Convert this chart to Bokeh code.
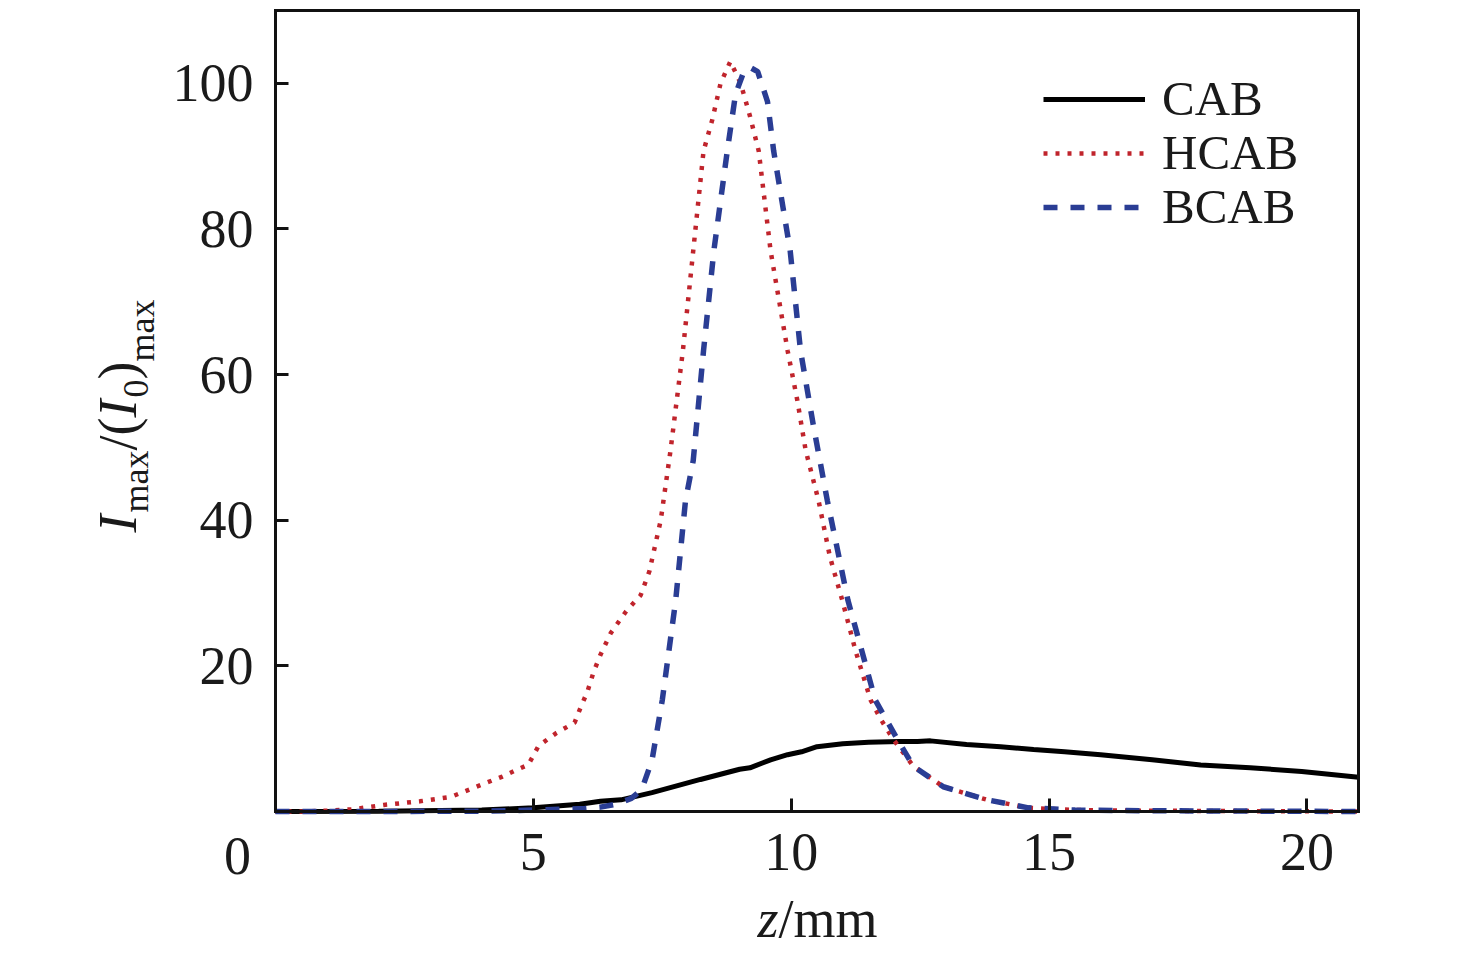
import math
from bokeh.plotting import figure
from bokeh.models import Range1d, FixedTicker, Legend, LegendItem, Label, LinearAxis
from bokeh.embed import file_html
from bokeh.resources import INLINE

# ---------------- data ----------------
cab_z = [0, 2, 4, 5.0, 5.9, 6.3, 6.7, 7.3, 8.24, 9.0, 9.2, 9.6, 9.93, 10.2, 10.5, 11.0, 11.5,
         12.1, 12.45, 12.7, 13.4, 14.06, 14.7, 15.3, 16.0, 17.0, 17.94, 18.9, 19.9, 21.0]
cab_v = [0, 0.05, 0.2, 0.5, 1.0, 1.4, 1.6, 2.6, 4.4, 5.8, 6.0, 7.1, 7.8, 8.2, 8.9, 9.3, 9.5,
         9.6, 9.6, 9.7, 9.2, 8.9, 8.5, 8.2, 7.8, 7.1, 6.4, 6.0, 5.5, 4.7]

hcab_z = [0, 0.5, 1.0, 1.5, 2.1, 2.8, 3.4, 4.0, 4.4, 4.7, 4.9, 5.1, 5.45, 5.8, 5.9, 6.05, 6.17,
          6.3, 6.5, 6.8, 7.08, 7.25, 7.47, 7.66, 7.9, 8.1, 8.3, 8.47, 8.63, 8.82, 9.02, 9.2, 9.37,
          9.6, 9.93, 10.12, 10.28, 10.53, 10.75, 10.99, 11.25, 11.54, 11.75, 11.98, 12.37, 12.95,
          13.8, 14.6, 15.5, 17, 19, 21]
hcab_v = [0, 0, 0.1, 0.3, 0.9, 1.4, 2.0, 3.7, 4.8, 5.8, 6.4, 9.0, 10.8, 12.2, 14, 16.5, 19.2,
          21.5, 24.5, 27.5, 29.7, 33, 40, 49.6, 63.3, 77, 90.7, 95, 100, 103, 100, 95.5, 90.7,
          77, 63.3, 56.4, 49.6, 42.7, 35, 29, 22, 15.3, 12.5, 9.9, 6.2, 3.4,
          1.6, 0.5, 0.2, 0.1, 0.05, 0]

bcab_z = [0, 2, 4, 4.5, 5.0, 5.5, 6.0, 6.3, 6.6, 6.9, 7.1, 7.3, 7.5, 7.76, 7.95, 8.1, 8.3, 8.5,
          8.76, 8.92, 9.08, 9.2, 9.35, 9.54, 9.66, 9.98, 10.18, 10.43, 10.7, 11.1, 11.63, 12.06,
          12.37, 12.95, 13.8, 14.6, 15.5, 17, 19, 21]
bcab_v = [0, 0, 0.05, 0.1, 0.2, 0.3, 0.4, 0.6, 1.0, 1.8, 3.0, 7.0, 15.3, 29, 42.7, 48.2, 63.3, 77,
          90.7, 98.5, 101.6, 102.2, 101.6, 97.5, 90.7, 77, 63.3, 53, 42.7, 29, 15.3, 9.9,
          6.2, 3.4, 1.6, 0.5, 0.2, 0.1, 0.05, 0]

x_ticks = [5, 10, 15, 20]
y_ticks = [20, 40, 60, 80, 100]
series_names = ["CAB", "HCAB", "BCAB"]

# ---------------- layout ----------------
FONT = "Liberation Serif"
FS = 54
LEG_FS = 49
SUB = 36
X0, X1 = 0, 21          # axis limits
Y0, Y1 = 0, 110
FL, FR, FT, FB = 275, 1358, 10, 811   # where the axis box sits on the canvas (px)
W, H = 1460, 955

sx = (FR - FL) / (X1 - X0)
sy = (FB - FT) / (Y1 - Y0)
xr = Range1d(X0 - FL / sx, X1 + (W - FR) / sx)
yr = Range1d(Y0 - (H - FB) / sy, Y1 + FT / sy)

p = figure(width=W, height=H, x_range=xr, y_range=yr,
           output_backend="svg", toolbar_location=None,
           min_border_left=0, min_border_right=0, min_border_top=0, min_border_bottom=0)
p.title.visible = False
p.background_fill_color = "white"
p.border_fill_color = "white"
p.grid.visible = False
p.outline_line_color = None
p.xaxis.visible = False
p.yaxis.visible = False

INK = "#111111"

def make_axis(fixed, bounds, ticks):
    ax = LinearAxis(fixed_location=fixed, bounds=bounds, ticker=FixedTicker(ticks=ticks))
    ax.axis_line_width = 3
    ax.axis_line_color = INK
    ax.axis_line_cap = "square"
    ax.major_tick_in = 13
    ax.major_tick_out = 0
    ax.major_tick_line_width = 3
    ax.major_tick_line_color = INK
    ax.minor_tick_line_color = None
    ax.major_label_text_font = FONT
    ax.major_label_text_font_size = f"{FS}px"
    ax.major_label_text_color = "#1a1a1a"
    return ax

xa = make_axis(Y0, (X0, X1), x_ticks)
xa.major_label_standoff = 22
ya = make_axis(X0, (Y0, Y1), y_ticks)
ya.major_label_standoff = 22
ta = make_axis(Y1, (X0, X1), [])
ta.major_label_text_alpha = 0
ra = make_axis(X1, (Y0, Y1), [])
ra.major_label_text_alpha = 0
p.add_layout(xa, "below")
p.add_layout(ya, "left")
p.add_layout(ta, "above")
p.add_layout(ra, "right")

r_cab = p.line(cab_z, cab_v, line_color="#000000", line_width=5)
r_hcab = p.line(hcab_z, hcab_v, line_color="#c0242c", line_width=4.5, line_dash="4 8")
r_bcab = p.line(bcab_z, bcab_v, line_color="#2a3d94", line_width=5.5, line_dash="14 13")

# one legend per entry so the rows can sit close together
row_centres = [99, 153, 207]
ROW_H = round(LEG_FS * 1.15)
for name, rend, yc in zip(series_names, [r_cab, r_hcab, r_bcab], row_centres):
    lg = Legend(items=[LegendItem(label=name, renderers=[rend])],
                location=(1043, H - (yc + ROW_H // 2)),
                border_line_alpha=0, background_fill_alpha=0,
                label_text_font=FONT, label_text_font_size=f"{LEG_FS}px",
                label_text_color="#1a1a1a",
                glyph_width=102, glyph_height=20, label_standoff=17, spacing=0, padding=0,
                margin=0)
    p.add_layout(lg)

# canvas px -> data helpers for text placement
def dx(px):
    return xr.start + px / sx

def dy(py):
    return yr.start + (H - py) / sy

def add_label(text, px, py, size, italic=False, angle=0.0, align="left", baseline="alphabetic"):
    p.add_layout(Label(x=dx(px), y=dy(py), text=text, angle=angle,
                       text_font=FONT, text_font_size=f"{size}px",
                       text_font_style="italic" if italic else "normal",
                       text_color="#1a1a1a", text_align=align, text_baseline=baseline))

SHIFT = 0.46  # empirical correction of the rendered baseline, in em

# origin "0" label below the corner
add_label("0", 237, 855, FS, align="center", baseline="middle")

# x-axis title: z/mm
add_label("z", 757, 943 - SHIFT * FS, FS, italic=True)
add_label("/mm", 778, 943 - SHIFT * FS, FS)

# y-axis title: I_max/(I_0)_max, rotated
parts = [("I", FS, True, 0.333 * FS + 2, 142),
         ("max", SUB, False, 1.722 * SUB, 152),
         ("/(", FS, False, 0.611 * FS, 142),
         ("I", FS, True, 0.333 * FS + 2, 142),
         ("0", SUB, False, 0.5 * SUB, 152),
         (")", FS, False, 0.333 * FS, 142),
         ("max", SUB, False, 1.722 * SUB, 158)]
ypos = 532
for text, size, ital, width, base_x in parts:
    add_label(text, base_x - SHIFT * size, ypos, size, italic=ital, angle=math.pi / 2)
    ypos -= width

open("out.html", "w").write(file_html(p, INLINE))
